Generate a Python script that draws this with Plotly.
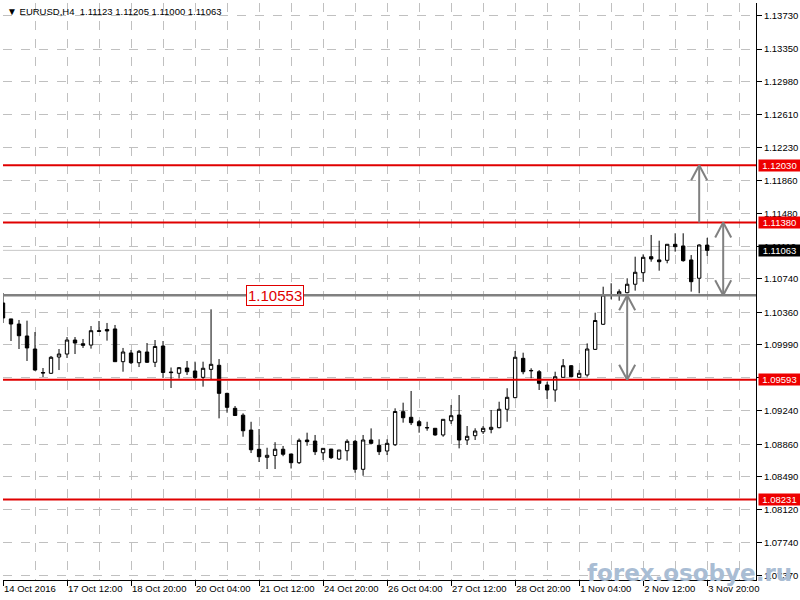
import plotly.graph_objects as go

# ---------------- data (EURUSD H4) ----------------
opens = [1.10465, 1.10284, 1.10226, 1.10090, 1.09942, 1.09675, 1.09666, 1.09851, 1.09885, 1.10044,
         1.10002, 1.09987, 1.10150, 1.10164, 1.10170, 1.09798, 1.09897, 1.09786, 1.09908, 1.09791,
         1.09976, 1.09681, 1.09666, 1.09726, 1.09692, 1.09620, 1.09711, 1.09757, 1.09438, 1.09268,
         1.09190, 1.09021, 1.08802, 1.08711, 1.08732, 1.08803, 1.08749, 1.08650, 1.08908, 1.08896,
         1.08763, 1.08805, 1.08692, 1.08786, 1.08893, 1.08575, 1.08908, 1.08848, 1.08783, 1.08854,
         1.09230, 1.09166, 1.09116, 1.09050, 1.09041, 1.08965, 1.09127, 1.09192, 1.08908, 1.08957,
         1.09002, 1.09029, 1.09048, 1.09257, 1.09389, 1.09836, 1.09693, 1.09684, 1.09533, 1.09476,
         1.09620, 1.09752, 1.09620, 1.09647, 1.09938, 1.10223, 1.10552, 1.10567, 1.10582, 1.10678,
         1.10809, 1.10991, 1.10954, 1.10950, 1.11132, 1.11113, 1.10954, 1.10746, 1.11123]
highs = [1.10578, 1.10284, 1.10272, 1.10264, 1.10135, 1.09726, 1.09863, 1.09942, 1.10078, 1.10078,
         1.10056, 1.10203, 1.10260, 1.10238, 1.10215, 1.09954, 1.09931, 1.09931, 1.10010, 1.10044,
         1.10033, 1.09732, 1.09737, 1.09806, 1.09798, 1.09798, 1.10393, 1.09828, 1.09445, 1.09294,
         1.09211, 1.09115, 1.09033, 1.08820, 1.08883, 1.08840, 1.08749, 1.08925, 1.08991, 1.08965,
         1.08813, 1.08805, 1.08794, 1.08916, 1.08908, 1.08965, 1.09040, 1.08916, 1.08916, 1.09268,
         1.09332, 1.09465, 1.09135, 1.09115, 1.09041, 1.09143, 1.09306, 1.09419, 1.09067, 1.09041,
         1.09067, 1.09249, 1.09343, 1.09496, 1.09919, 1.09900, 1.09723, 1.09703, 1.09570, 1.09684,
         1.09828, 1.09760, 1.09703, 1.10006, 1.10355, 1.10650, 1.10689, 1.10620, 1.10746, 1.10991,
         1.11018, 1.11238, 1.11173, 1.11132, 1.11257, 1.11257, 1.11010, 1.11132, 1.11205]
lows = [1.10238, 1.10033, 1.09942, 1.09806, 1.09695, 1.09624, 1.09658, 1.09703, 1.09840, 1.09885,
        1.09954, 1.09946, 1.10139, 1.10037, 1.09798, 1.09684, 1.09772, 1.09737, 1.09783, 1.09737,
        1.09613, 1.09499, 1.09607, 1.09647, 1.09598, 1.09514, 1.09598, 1.09154, 1.09218, 1.09184,
        1.08945, 1.08760, 1.08658, 1.08578, 1.08578, 1.08724, 1.08584, 1.08635, 1.08843, 1.08737,
        1.08681, 1.08692, 1.08681, 1.08673, 1.08536, 1.08502, 1.08862, 1.08737, 1.08737, 1.08840,
        1.09105, 1.09078, 1.08991, 1.09013, 1.08957, 1.08945, 1.09090, 1.08813, 1.08851, 1.08908,
        1.08976, 1.08984, 1.09041, 1.09115, 1.09382, 1.09655, 1.09609, 1.09476, 1.09374, 1.09343,
        1.09620, 1.09620, 1.09616, 1.09627, 1.09931, 1.10215, 1.10507, 1.10491, 1.10575, 1.10605,
        1.10707, 1.10934, 1.10832, 1.10916, 1.11048, 1.10934, 1.10594, 1.10575, 1.11000]
closes = [1.10295, 1.10226, 1.10093, 1.09954, 1.09703, 1.09670, 1.09848, 1.09885, 1.10044, 1.10010,
          1.09984, 1.10150, 1.10143, 1.10147, 1.09798, 1.09908, 1.09786, 1.09916, 1.09791, 1.09971,
          1.09675, 1.09674, 1.09730, 1.09684, 1.09616, 1.09723, 1.09768, 1.09438, 1.09279, 1.09186,
          1.09013, 1.08797, 1.08718, 1.08734, 1.08803, 1.08746, 1.08650, 1.08904, 1.08889, 1.08775,
          1.08813, 1.08707, 1.08794, 1.08893, 1.08575, 1.08908, 1.08870, 1.08775, 1.08870, 1.09232,
          1.09161, 1.09105, 1.09070, 1.09046, 1.08965, 1.09143, 1.09184, 1.08908, 1.08950, 1.09010,
          1.09041, 1.09052, 1.09257, 1.09393, 1.09848, 1.09684, 1.09698, 1.09552, 1.09476, 1.09627,
          1.09752, 1.09627, 1.09666, 1.09942, 1.10266, 1.10556, 1.10556, 1.10593, 1.10678, 1.10814,
          1.10984, 1.10965, 1.10934, 1.11132, 1.11105, 1.10946, 1.10707, 1.11124, 1.11063]

x_tick_labels = ["14 Oct 2016", "17 Oct 12:00", "18 Oct 20:00", "20 Oct 04:00", "21 Oct 12:00",
                 "24 Oct 20:00", "26 Oct 04:00", "27 Oct 12:00", "28 Oct 20:00", "1 Nov 04:00",
                 "2 Nov 12:00", "3 Nov 20:00"]
y_tick_vals = [1.13730, 1.13350, 1.12980, 1.12610, 1.12230, 1.11860, 1.11480, 1.11110, 1.10740,
               1.10360, 1.09990, 1.09620, 1.09240, 1.08860, 1.08490, 1.08120, 1.07740, 1.07370]

red_levels = [1.12030, 1.11380, 1.09593, 1.08231]
gray_level = 1.10553
bid_price = 1.11063
symbol_text = "EURUSD,H4"
ohlc_text = ["1.11123", "1.11205", "1.11000", "1.11063"]
watermark = "forex.osobye.ru"

BARS_PER_TICK = 8
xs = list(range(len(opens)))

FONT = "Liberation Sans"
GRID = "#c0c0c0"
FS = 9.5

fig = go.Figure()
fig.add_trace(go.Candlestick(
    x=xs, open=opens, high=highs, low=lows, close=closes,
    increasing=dict(line=dict(color="black", width=1), fillcolor="white"),
    decreasing=dict(line=dict(color="black", width=1), fillcolor="black"),
    whiskerwidth=0, showlegend=False, name="EURUSD",
))

shapes = []
# current bid line
shapes.append(dict(type="line", xref="paper", x0=0, x1=1, yref="y", y0=bid_price, y1=bid_price,
                   line=dict(color="#c8c8c8", width=1), layer="below"))
# red horizontal levels
for lv in red_levels:
    shapes.append(dict(type="line", xref="paper", x0=0, x1=1, yref="y", y0=lv, y1=lv,
                       line=dict(color="#e00000", width=2), layer="above"))
# gray level
shapes.append(dict(type="line", xref="paper", x0=0, x1=1, yref="y", y0=gray_level, y1=gray_level,
                   line=dict(color="#808080", width=2.5), layer="above"))

# arrows (x in bar units)
HEAD_DX = 1.0
HEAD_DY = 0.0017
arrows = [
    (78, gray_level, red_levels[2], True),
    (90, red_levels[1], gray_level, True),
    (87, red_levels[1], red_levels[0], False),
]
ARROW = dict(color="#808080", width=2)
for ax, ya, yb, both in arrows:
    shapes.append(dict(type="line", xref="x", yref="y", x0=ax, x1=ax, y0=ya, y1=yb, line=ARROW, layer="above"))
    ends = [(yb, ya)] + ([(ya, yb)] if both else [])
    for tip, other in ends:
        sgn = 1 if other > tip else -1
        for dx in (-HEAD_DX, HEAD_DX):
            shapes.append(dict(type="line", xref="x", yref="y", x0=ax, y0=tip, x1=ax + dx,
                               y1=tip + sgn * HEAD_DY, line=ARROW, layer="above"))

annotations = []
# title
annotations.append(dict(
    xref="paper", yref="paper", x=0, y=1, xanchor="left", yanchor="middle", xshift=2, yshift=-8,
    text="<span style='font-size:10px'>\u25bc</span> " + symbol_text + "&nbsp; " + " ".join(ohlc_text),
    showarrow=False, font=dict(family=FONT, size=9.5, color="black")))
# right-axis level labels
for lv in red_levels:
    annotations.append(dict(xref="paper", yref="y", x=1, y=lv, xanchor="left", yanchor="middle", xshift=2,
                            text=f"{lv:.5f}", showarrow=False, bgcolor="#ee0000", width=41, height=11,
                            borderpad=0, font=dict(family=FONT, size=FS, color="white")))
annotations.append(dict(xref="paper", yref="y", x=1, y=bid_price, xanchor="left", yanchor="middle", xshift=2,
                        text=f"{bid_price:.5f}", showarrow=False, bgcolor="black", width=41, height=11,
                        borderpad=0, font=dict(family=FONT, size=FS, color="white")))
# in-chart label for gray level
annotations.append(dict(xref="x", yref="y", x=34, y=gray_level, xanchor="center", yanchor="middle",
                        text=f"{gray_level:.5f}", showarrow=False, bgcolor="white", bordercolor="#e00000",
                        borderwidth=1, borderpad=1, font=dict(family=FONT, size=15, color="#e00000")))
# watermark
annotations.append(dict(xref="paper", yref="paper", x=0.912, y=0.012, xanchor="center", yanchor="middle",
                        text="<b>" + watermark + "</b>", showarrow=False,
                        font=dict(family="DejaVu Sans", size=23, color="#a9bdd4")))

fig.update_layout(
    width=800, height=600, autosize=False,
    margin=dict(l=3, r=44, t=3, b=20, autoexpand=False),
    paper_bgcolor="white", plot_bgcolor="white",
    showlegend=False, boxgap=0.4,
    shapes=shapes, annotations=annotations,
    xaxis=dict(
        range=[0, 94.1], rangeslider=dict(visible=False), showline=True, linecolor="black", linewidth=1,
        tickvals=[i * BARS_PER_TICK for i in range(len(x_tick_labels))], ticktext=x_tick_labels,
        ticks="outside", ticklen=5, tickcolor="black", ticklabelposition="outside right", tickangle=0,
        tickfont=dict(family=FONT, size=FS, color="black"), automargin=False,
        showgrid=True, gridcolor=GRID, griddash="dash", gridwidth=1, zeroline=False,
        minor=dict(dtick=BARS_PER_TICK / 2, tick0=0, showgrid=True, gridcolor=GRID, griddash="dash", ticklen=0),
    ),
    yaxis=dict(
        side="right", range=[1.07317, 1.13874], showline=True, linecolor="black", linewidth=1,
        tickvals=y_tick_vals, ticktext=[f"{v:.5f}" for v in y_tick_vals],
        ticks="outside", ticklen=5, tickcolor="black", automargin=False,
        tickfont=dict(family=FONT, size=FS, color="black"),
        showgrid=True, gridcolor=GRID, griddash="dash", gridwidth=1, zeroline=False,
    ),
)

fig.write_html("out.html", config={"displayModeBar": False},
               post_script="document.body.style.margin='0';document.body.style.padding='0';")
